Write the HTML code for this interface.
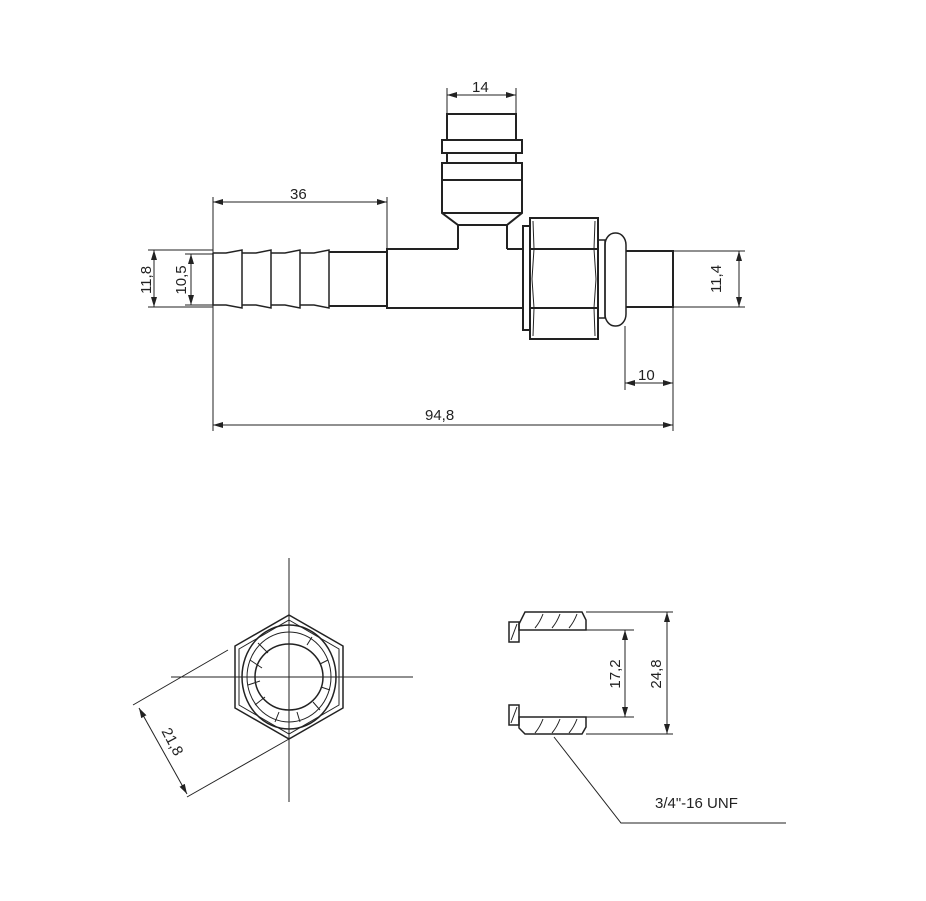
<!DOCTYPE html>
<html><head><meta charset="utf-8"><style>
html,body{margin:0;padding:0;background:#fff;}
svg{display:block;}
text{font-family:"Liberation Sans",sans-serif;font-size:15px;fill:#222;}
</style></head><body>
<svg width="926" height="901" viewBox="0 0 926 901" xmlns="http://www.w3.org/2000/svg">
<defs>
<marker id="a" viewBox="0 0 10 6" refX="10" refY="3" markerWidth="10" markerHeight="6" orient="auto-start-reverse" markerUnits="userSpaceOnUse"><path d="M0,0 L10,3 L0,6 z" fill="#222"/></marker>
</defs>
<g stroke="#222" fill="none" stroke-width="2">
<!-- upper fitting -->
<rect x="447" y="114" width="69" height="26"/>
<rect x="442" y="140" width="80" height="13"/>
<rect x="447" y="153" width="69" height="10"/>
<path d="M442,163 H522 V213 L507,225 H458 L442,213 Z"/>
<line x1="442" y1="180" x2="522" y2="180"/>
<line x1="442" y1="213" x2="522" y2="213"/>
<line x1="458" y1="225" x2="458" y2="249"/>
<line x1="507" y1="225" x2="507" y2="249"/>
<!-- main body -->
<path d="M458,249 H387 V308 H523"/>
<path d="M507,249 H523"/>
<!-- hose tail -->
<g stroke-width="1.5">
<path d="M213,253 H226 L242,250 V308 L226,305 H213 V253"/>
<path d="M242,253 H256 L271,250 V308 L256,305 H242"/>
<path d="M271,253 H285 L300,250 V308 L285,305 H271"/>
<path d="M300,253 H314 L329,250 V308 L314,305 H300"/>
</g>
<path d="M329,252 H387 M329,306 H387"/>
<!-- nut -->
<rect x="523" y="226" width="7" height="104"/>
<rect x="530" y="218" width="68" height="121"/>
<path d="M533,221 L534,249 L532,279 L534,308 L533,336 M595,221 L594,249 L596,279 L594,308 L595,336" stroke-width="1"/>
<line x1="530" y1="249" x2="598" y2="249"/>
<line x1="530" y1="308" x2="598" y2="308"/>
<rect x="598" y="240" width="7" height="78" stroke-width="1.5"/>
<rect x="605" y="233" width="21" height="93" rx="10" ry="12" stroke-width="1.5"/>
<!-- pipe -->
<path d="M626,251 H673 V307 H626"/>
</g>
<g stroke="#222" fill="none" stroke-width="1">
<line x1="447" y1="88" x2="447" y2="114"/><line x1="516" y1="88" x2="516" y2="114"/>
<line x1="447" y1="95" x2="516" y2="95" marker-start="url(#a)" marker-end="url(#a)"/>
<line x1="213" y1="197" x2="213" y2="431"/><line x1="387" y1="197" x2="387" y2="249"/>
<line x1="213" y1="202" x2="387" y2="202" marker-start="url(#a)" marker-end="url(#a)"/>
<line x1="148" y1="250" x2="213" y2="250"/><line x1="148" y1="307" x2="213" y2="307"/>
<line x1="154" y1="250" x2="154" y2="307" marker-start="url(#a)" marker-end="url(#a)"/>
<line x1="185" y1="254" x2="213" y2="254"/><line x1="185" y1="305" x2="213" y2="305"/>
<line x1="191" y1="254" x2="191" y2="305" marker-start="url(#a)" marker-end="url(#a)"/>
<line x1="673" y1="251" x2="745" y2="251"/><line x1="673" y1="307" x2="745" y2="307"/>
<line x1="739" y1="251" x2="739" y2="307" marker-start="url(#a)" marker-end="url(#a)"/>
<line x1="625" y1="326" x2="625" y2="390"/><line x1="673" y1="307" x2="673" y2="431"/>
<line x1="625" y1="383" x2="673" y2="383" marker-start="url(#a)" marker-end="url(#a)"/>
<line x1="213" y1="425" x2="673" y2="425" marker-start="url(#a)" marker-end="url(#a)"/>
<line x1="289" y1="558" x2="289" y2="802"/>
<line x1="171" y1="677" x2="413" y2="677"/>
<line x1="228" y1="650" x2="133" y2="705"/>
<line x1="289" y1="739" x2="187" y2="797"/>
<line x1="139" y1="708" x2="187" y2="794" marker-start="url(#a)" marker-end="url(#a)"/>
<line x1="586" y1="612" x2="673" y2="612"/><line x1="586" y1="734" x2="673" y2="734"/>
<line x1="667" y1="612" x2="667" y2="734" marker-start="url(#a)" marker-end="url(#a)"/>
<line x1="586" y1="630" x2="634" y2="630"/><line x1="586" y1="717" x2="634" y2="717"/>
<line x1="625" y1="630" x2="625" y2="717" marker-start="url(#a)" marker-end="url(#a)"/>
<polyline points="554,737 621,823 786,823"/>
<path d="M535,628 q5,-6 8,-14 M552,628 q5,-6 8,-14 M569,628 q5,-6 8,-14"/>
<path d="M535,733 q5,-6 8,-14 M552,733 q5,-6 8,-14 M569,733 q5,-6 8,-14"/>
<path d="M511,640 L517,624 M511,723 L517,707"/>
</g>
<g stroke="#222" fill="none" stroke-width="1.5">
<polygon points="289,615 343,646 343,708 289,739 235,708 235,646"/>
<polygon points="289,620 339,649 339,705 289,734 239,705 239,649" stroke-width="1"/>
<ellipse cx="289" cy="677" rx="47" ry="52"/>
<ellipse cx="289" cy="677" rx="42" ry="45" stroke-width="1"/>
<ellipse cx="289" cy="677" rx="34" ry="33"/>
<path d="M258,643 l10,10 M250,660 l12,8 M248,685 l12,-4 M255,705 l10,-8 M275,722 l4,-10 M300,722 l-3,-10 M320,710 l-7,-8 M330,690 l-9,-3 M328,660 l-8,4 M312,637 l-5,8" stroke-width="1"/>
<polygon points="525,612 582,612 586,620 586,630 519,630 519,624"/>
<polygon points="519,717 586,717 586,727 582,734 525,734 519,728"/>
<rect x="509" y="622" width="10" height="20"/>
<rect x="509" y="705" width="10" height="20"/>
</g>
<text x="472" y="92">14</text>
<text x="290" y="199">36</text>
<text x="425" y="420">94,8</text>
<text x="638" y="380">10</text>
<text transform="translate(151,280) rotate(-90)" text-anchor="middle">11,8</text>
<text transform="translate(186,280) rotate(-90)" text-anchor="middle">10,5</text>
<text transform="translate(721,279) rotate(-90)" text-anchor="middle">11,4</text>
<text transform="translate(620,674) rotate(-90)" text-anchor="middle">17,2</text>
<text transform="translate(661,674) rotate(-90)" text-anchor="middle">24,8</text>
<text transform="translate(168,744) rotate(62)" text-anchor="middle">21,8</text>
<text x="655" y="808">3/4"-16 UNF</text>
</svg>
</body></html>
